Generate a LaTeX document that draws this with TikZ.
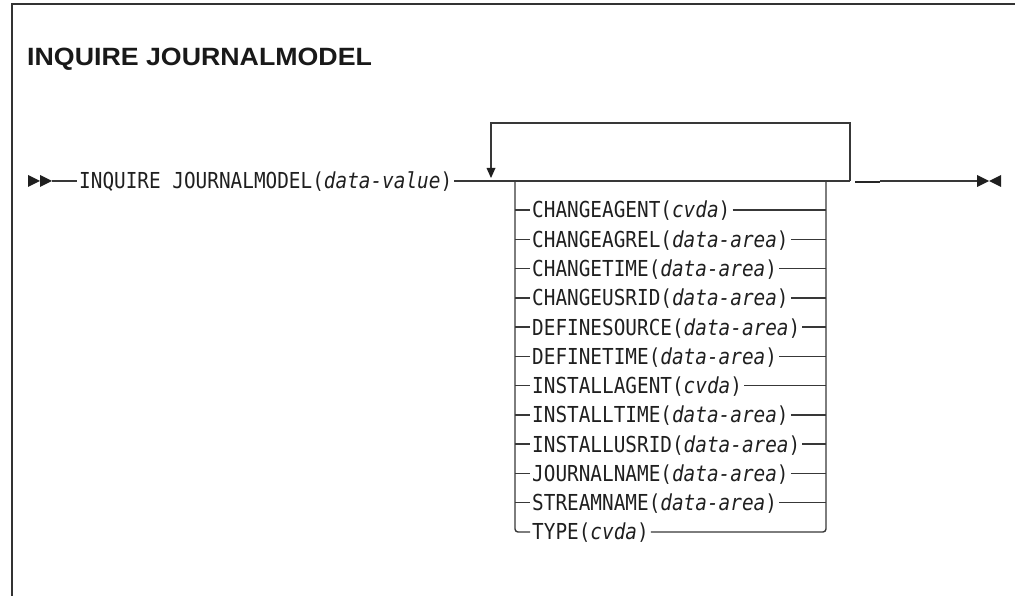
\documentclass[tikz,border=0pt]{standalone}
\usepackage{fontspec}
\setmonofont[FakeStretch=0.88]{DejaVu Sans Mono}
\newfontfamily\titlefont[FakeStretch=1.07]{Liberation Sans}
\begin{document}
\begin{tikzpicture}[x=1pt,y=-1pt,
  rail/.style={draw=black!78,line width=1.4pt},
  frameline/.style={draw=black!80,line width=2.2pt},
  tip/.style={fill=black!88,draw=none},
  kw/.style={inner xsep=2pt,inner ysep=0pt,anchor=base west,font=\ttfamily\fontsize{22}{24}\selectfont,text=black!88}]
\useasboundingbox (0,0) rectangle (1015,596);
% frame
\coordinate (fTL) at (12,4);
\coordinate (fTR) at (1015,4);
\coordinate (fBL) at (12,596);
\draw[frameline] (fBL) -- (fTL) -- (fTR);
% title
\node[anchor=base west,inner sep=0pt,font=\titlefont\bfseries\fontsize{25}{28}\selectfont,text=black!90] (title) at (27,66) {INQUIRE JOURNALMODEL};
% start and main text
\coordinate (st) at (52,181);
\fill[tip] (28,175) -- (40,181) -- (28,187) -- cycle;
\fill[tip] (40,175) -- (52,181) -- (40,187) -- cycle;
\node[kw] (main) at (77,189) {INQUIRE JOURNALMODEL(\textit{data-value})};
\coordinate (B1) at (515,181);
\coordinate (B2) at (826,181);
\coordinate (LR) at (850,181);
\coordinate (LRt) at (850,123);
\coordinate (LLt) at (491,123);
\coordinate (LLa) at (491,169);
\coordinate (G1) at (855,182);
\coordinate (G2) at (880,182);
\coordinate (G3) at (880,181);
\coordinate (en) at (977,181);
\draw[rail] (st) -- (main.west |- st);
\draw[rail] (main.east |- st) -- (B1) -- (B2) -- (LR);
% loop back
\draw[rail] (LR) -- (LRt) -- (LLt) -- (LLa);
\fill[tip] (486.5,168) -- (495.5,168) -- (491,178) -- cycle;
% exit
\draw[draw=black!85,line width=2.6pt] (G1) -- (G2);
\draw[rail] (G3) -- (en);
\fill[tip] (977,175) -- (989,181) -- (977,187) -- cycle;
\fill[tip] (1001,175) -- (989,181) -- (1001,187) -- cycle;
% options
\foreach \i/\txt in {1/{CHANGEAGENT(\textit{cvda})},
  2/{CHANGEAGREL(\textit{data-area})},
  3/{CHANGETIME(\textit{data-area})},
  4/{CHANGEUSRID(\textit{data-area})},
  5/{DEFINESOURCE(\textit{data-area})},
  6/{DEFINETIME(\textit{data-area})},
  7/{INSTALLAGENT(\textit{cvda})},
  8/{INSTALLTIME(\textit{data-area})},
  9/{INSTALLUSRID(\textit{data-area})},
  10/{JOURNALNAME(\textit{data-area})},
  11/{STREAMNAME(\textit{data-area})},
  12/{TYPE(\textit{cvda})}}{
  \pgfmathsetmacro{\yy}{210+(\i-1)*29.27}
  \coordinate (L\i) at (515,\yy);
  \coordinate (R\i) at (826,\yy);
  \node[kw] (o\i) at (530,\yy+8) {\txt};
}
\foreach \i in {1,...,11}{
  \draw[rail] (L\i) -- (o\i.west |- L\i);
  \draw[rail] (o\i.east |- R\i) -- (R\i);
}
\draw[rail,rounded corners=3pt] (B1) -- (L12) -- (o12.west |- L12);
\draw[rail,rounded corners=3pt] (o12.east |- R12) -- (R12) -- (B2);
\end{tikzpicture}
\end{document}
